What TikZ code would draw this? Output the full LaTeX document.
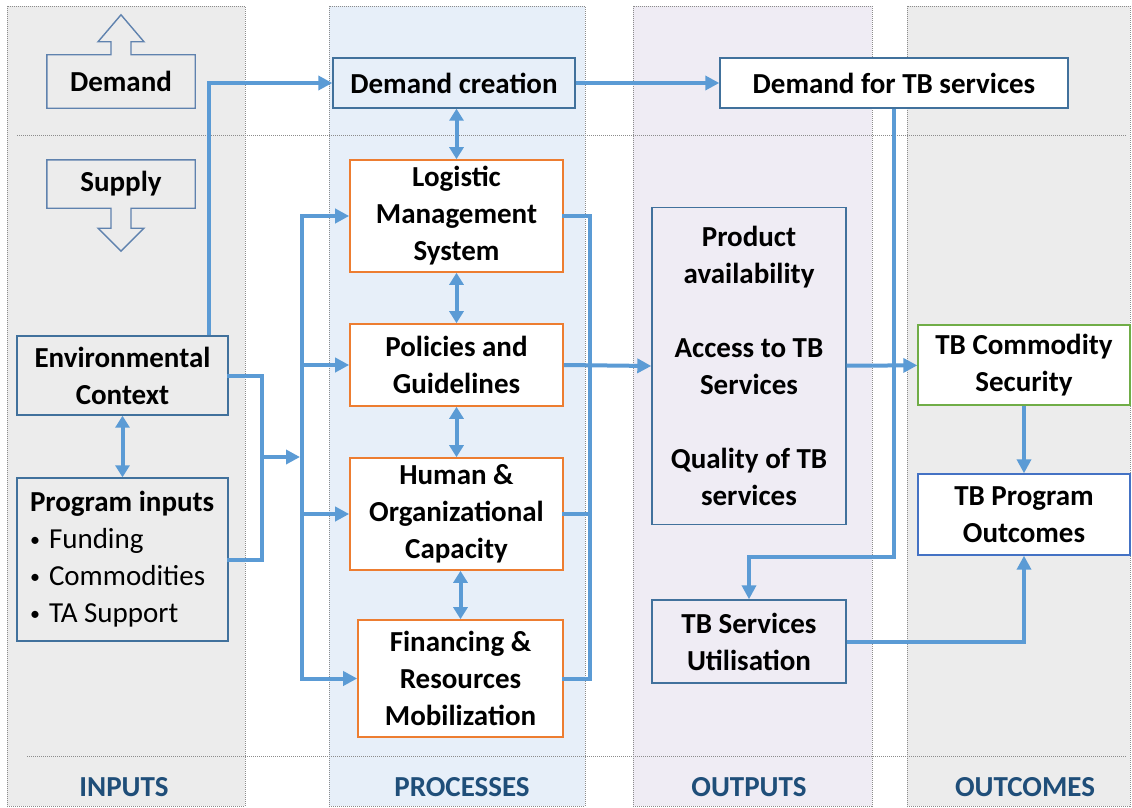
\documentclass[tikz,border=0pt]{standalone}
\usepackage{fontspec}
\setmainfont{Carlito}
\usetikzlibrary{positioning,arrows.meta,calc}
\definecolor{blue500} {HTML}{5B9BD5}
\definecolor{blue600} {HTML}{4472C4}
\definecolor{blue700} {HTML}{41719C}
\definecolor{navy800} {HTML}{1F4E79}
\definecolor{steel400}{HTML}{5F82AE}
\definecolor{orange500}{HTML}{ED7D31}
\definecolor{green500}{HTML}{70AD47}
\definecolor{grey100} {HTML}{ECECEC}
\definecolor{grey500} {HTML}{8C8C8C}
\definecolor{sky100}  {HTML}{E7EFF9}
\definecolor{lilac100}{HTML}{EFECF4}
\tikzset{
  txt/.style  ={font=\bfseries\fontsize{29}{37}\selectfont, align=center,
                inner sep=0pt, text=black},
  box/.style  ={txt, draw=blue700, line width=1.4pt},
  boxo/.style ={txt, draw=orange500, fill=white, line width=1.6pt},
  wh/.style 2 args={minimum width=#1pt, minimum height=#2pt},
  col/.style  ={draw=grey500, dash pattern=on 1pt off 1pt, line width=0.6pt},
  sep/.style  ={draw=grey500, dash pattern=on 1pt off 1pt, line width=0.8pt},
  blk/.style  ={draw=steel400, line width=1.4pt, line join=miter},
  ln/.style   ={draw=blue500, line width=4pt, line cap=rect},
  ar/.style   ={-{Triangle[length=14pt,width=14pt]}, draw=blue500,
                line width=4pt},
  dar/.style  ={{Triangle[length=12pt,width=14pt]}-{Triangle[length=12pt,width=14pt]},
                draw=blue500, line width=4pt},
  lab/.style  ={font=\bfseries\fontsize{29}{34}\selectfont, text=navy800,
                inner sep=0pt}
}
\newcommand{\itembul}{\makebox[19pt][l]{\raisebox{2.5pt}{\fontsize{20}{20}\selectfont•}}}
\begin{document}
\begin{tikzpicture}[x=1pt, y=-1pt]
\useasboundingbox (0,0) rectangle (1132,808);
\fill[white] (0,0) rectangle (1132,808);
\draw[col, fill=grey100]  (7,6)   rectangle (245,806);
\draw[col, fill=sky100]   (329,6) rectangle (585,806);
\draw[col, fill=lilac100] (633,6) rectangle (872,806);
\draw[col, fill=grey100]  (907,6) rectangle (1130,806);
\draw[sep] (17,135) -- (1126,135);
\draw[sep] (27,756) -- (1126,756);

\node[txt, wh={148}{53}] (demand) at (121,81.5) {Demand};
\node[txt, wh={148}{48}] (supply) at (121,184) {Supply};
\draw[blk] (demand.south west) -- (demand.north west)
  -- ($(demand.north)+(-10,0)$) -- ($(demand.north)+(-10,-13)$)
  -- ($(demand.north)+(-23,-13)$) -- ($(demand.north)+(0,-40)$)
  -- ($(demand.north)+(23,-13)$) -- ($(demand.north)+(10,-13)$)
  -- ($(demand.north)+(10,0)$) -- (demand.north east)
  -- (demand.south east) -- cycle;
\draw[blk] (supply.north west) -- (supply.north east) -- (supply.south east)
  -- ($(supply.south)+(10,0)$) -- ($(supply.south)+(10,20)$)
  -- ($(supply.south)+(23,20)$) -- ($(supply.south)+(0,43)$)
  -- ($(supply.south)+(-23,20)$) -- ($(supply.south)+(-10,20)$)
  -- ($(supply.south)+(-10,0)$) -- (supply.south west) -- cycle;

\node[box, wh={211}{79}] (env) at (122.5,375.5) {Environmental\\Context};
\node[box, wh={211}{163}, text width=185pt, inner xsep=13pt, align=flush left]
  (prog) at (122.5,559.5)
  {Program inputs\\
   \mdseries\itembul Funding\\
   \mdseries\itembul Commodities\\
   \mdseries\itembul TA Support};

\node[box, wh={242}{50}] (creation) at (454,83) {Demand creation};
\node[boxo, wh={213}{112}] (lms) at (456.5,216) {Logistic\\Management\\System};
\node[boxo, wh={213}{82}] (policies) at (456.5,365) {Policies and\\Guidelines};
\node[boxo, wh={213}{112}] (human) at (456.5,514) {Human \&\\Organizational\\Capacity};
\node[boxo, wh={205}{117}] (finance) at (460.5,678.5) {Financing \&\\Resources\\Mobilization};

\node[box, fill=white, wh={348}{50}] (demandtb) at (894,83) {Demand for TB services};
\node[box, wh={194}{317}] (outbox) at (749,366)
  {Product\\availability\\[37pt]Access to TB\\Services\\[37pt]Quality of TB\\services};
\node[box, wh={194}{83}] (util) at (749,641.5) {TB Services\\Utilisation};

\node[box, draw=green500, fill=white, wh={212}{80}] (security) at (1024,365)
  {TB Commodity\\Security};
\node[box, draw=blue600, fill=white, wh={212}{81}] (outcomes) at (1024,514.5)
  {TB Program\\Outcomes};

\node[lab] (linputs)    at (124,787)  {INPUTS};
\node[lab] (lprocesses) at (462,787)  {PROCESSES};
\node[lab] (loutputs)   at (749,787)  {OUTPUTS};
\node[lab] (loutcomes)  at (1025,787) {OUTCOMES};

\coordinate (ljoin) at (262,457);
\coordinate (lbus)  at (302,457);
\coordinate (rbus)  at (590,457);
\draw[ar] ([xshift=-20pt]env.north east) |- (creation.west);
\draw[ln] (env.east) -| (ljoin) |- (prog.east);
\draw[ar] (ljoin) -- ([xshift=-2pt]lbus);
\draw[ln] (lbus |- lms.west) -- (lbus |- finance.west);
\foreach \n in {lms,policies,human,finance} \draw[ar] (lbus |- \n.west) -- (\n.west);
\draw[ln] (lms.east) -| (rbus |- finance.east) -- (finance.east);
\draw[ln] (human.east) -- (rbus |- human.east);
\draw[ar] (policies.east) -- (outbox.west);
\draw[dar] (lms.north |- creation.south) -- (lms.north);
\draw[dar] (lms) -- (policies);
\draw[dar] (policies) -- (human);
\draw[dar] (finance.north |- human.south) -- (finance.north);
\draw[dar] (env) -- (prog);
\draw[ar] (creation) -- (demandtb);
\draw[ar] (demandtb.south) |- ([yshift=42pt]util.north) -- (util.north);
\draw[ar] (outbox) -- (security);
\draw[ar] (security) -- (outcomes);
\draw[ar] (util.east) -| (outcomes.south);
\end{tikzpicture}
\end{document}
